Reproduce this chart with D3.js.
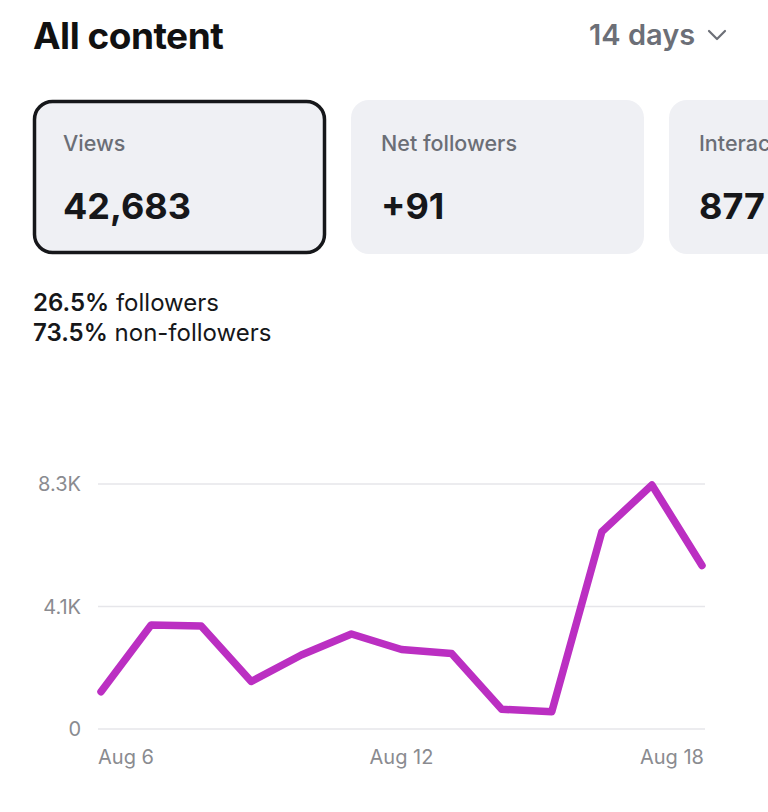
<!DOCTYPE html>
<html>
<head>
<meta charset="utf-8">
<script src="https://cdn.jsdelivr.net/npm/d3@7"></script>
<style>
  body { margin: 0; background: #fff; overflow: hidden; }
  svg { display: block; font-family: Inter, "Noto Sans", sans-serif; }
</style>
</head>
<body>
<div id="chart"></div>
<script>
// Data
const days = ["Aug 6", "Aug 7", "Aug 8", "Aug 9", "Aug 10", "Aug 11", "Aug 12",
              "Aug 13", "Aug 14", "Aug 15", "Aug 16", "Aug 17", "Aug 18"];
const views = [1264, 3523, 3489, 1609, 2507, 3218, 2693, 2558, 667, 586, 6684, 8266, 5539];
const tickValues = [0, 4150, 8300];
const tickLabels = ["0", "4.1K", "8.3K"];
const labelledDays = ["Aug 6", "Aug 12", "Aug 18"];
const cardTitles = ["Views", "Net followers", "Interactions"];
const cardValues = ["42,683", "+91", "877"];
const audienceShares = ["26.5%", "73.5%"];
const audienceNames = ["followers", "non-followers"];

const W = 768, H = 812;
const svg = d3.select("#chart").append("svg")
  .attr("width", W)
  .attr("height", H);

// Header
svg.append("text")
  .attr("x", 33).attr("y", 49)
  .attr("font-size", 37).attr("font-weight", 700)
  .attr("fill", "#111").attr("letter-spacing", -0.5)
  .text("All content");

svg.append("text")
  .attr("x", 589).attr("y", 45)
  .attr("font-size", 29).attr("font-weight", 600)
  .attr("fill", "#6c6f77")
  .text("14 days");

svg.append("path")
  .attr("d", "M709,31 L717,39 L725,31")
  .attr("fill", "none").attr("stroke", "#6c6f77")
  .attr("stroke-width", 2.2).attr("stroke-linecap", "round").attr("stroke-linejoin", "round");

// Metric cards
const cardW = 293, cardGap = 25;
const cards = svg.selectAll("g.card")
  .data(cardTitles.map((t, i) => ({ title: t, value: cardValues[i], i })))
  .join("g")
  .attr("class", "card")
  .attr("transform", d => `translate(${33 + d.i * (cardW + cardGap)},100)`);

cards.append("rect")
  .attr("x", d => d.i === 0 ? 1.5 : 0)
  .attr("y", d => d.i === 0 ? 1.5 : 0)
  .attr("width", d => d.i === 0 ? cardW - 3 : cardW)
  .attr("height", d => d.i === 0 ? 151 : 154)
  .attr("rx", 18)
  .attr("fill", "#eff0f4")
  .attr("stroke", d => d.i === 0 ? "#16171a" : "none")
  .attr("stroke-width", 3.5);

cards.append("text")
  .attr("x", 30).attr("y", 51)
  .attr("font-size", 21.5).attr("font-weight", 500)
  .attr("fill", "#6b6e76")
  .text(d => d.title);

cards.append("text")
  .attr("x", 30).attr("y", 119)
  .attr("font-size", 36).attr("font-weight", 700)
  .attr("fill", "#16171a")
  .text(d => d.value);

// Audience split
const split = svg.selectAll("text.split")
  .data(audienceShares)
  .join("text")
  .attr("class", "split")
  .attr("x", 33)
  .attr("y", (d, i) => 311 + i * 30)
  .attr("font-size", 24)
  .attr("fill", "#16171a");
split.append("tspan").attr("font-weight", 600).text(d => d);
split.append("tspan").attr("font-weight", 400).text((d, i) => " " + audienceNames[i]);

// Line chart
const x = d3.scalePoint()
  .domain(days)
  .range([101, 702]);

const y = d3.scaleLinear()
  .domain([0, 8300])
  .range([729, 484]);

// gridlines
svg.append("g")
  .selectAll("line")
  .data(tickValues)
  .join("line")
  .attr("x1", 98).attr("x2", 705)
  .attr("y1", d => y(d)).attr("y2", d => y(d))
  .attr("stroke", "#e6e6ea").attr("stroke-width", 1.5);

// y labels
svg.append("g")
  .selectAll("text")
  .data(tickValues)
  .join("text")
  .attr("x", 81)
  .attr("y", d => y(d))
  .attr("dy", "0.36em")
  .attr("text-anchor", "end")
  .attr("font-size", 20)
  .attr("fill", "#8a8b90")
  .text((d, i) => tickLabels[i]);

// x labels
svg.append("g")
  .selectAll("text")
  .data(labelledDays)
  .join("text")
  .attr("x", (d, i) => x(d) + (i === 0 ? -3 : i === labelledDays.length - 1 ? 2 : 0))
  .attr("y", 764)
  .attr("text-anchor", (d, i) => i === 0 ? "start" : i === labelledDays.length - 1 ? "end" : "middle")
  .attr("font-size", 20)
  .attr("fill", "#8a8b90")
  .text(d => d);

const line = d3.line()
  .x((d, i) => x(days[i]))
  .y(d => y(d));

svg.append("path")
  .datum(views)
  .attr("d", line)
  .attr("fill", "none")
  .attr("stroke", "#bb2fc2")
  .attr("stroke-width", 7.5)
  .attr("stroke-linejoin", "round")
  .attr("stroke-linecap", "round");
</script>
</body>
</html>
